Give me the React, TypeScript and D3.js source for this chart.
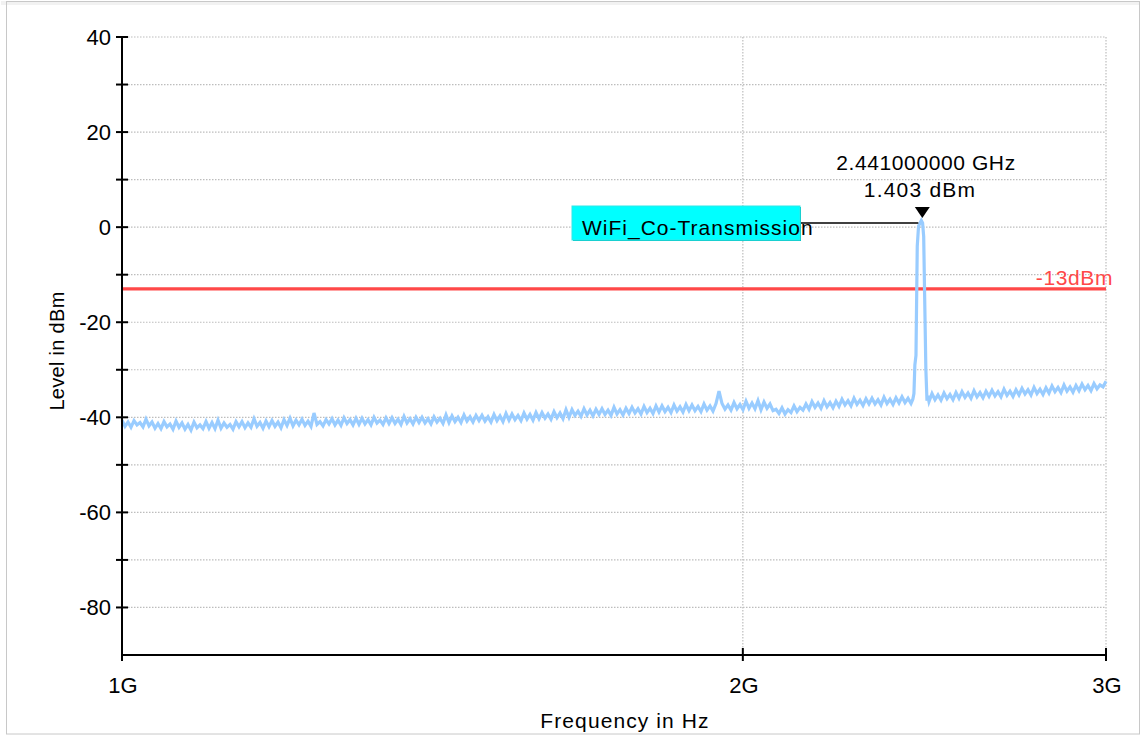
import React from "react";
import * as d3 from "d3";

// Sweep definition (log-spaced display points)
const sweepStartHz = 1e9;
const sweepStopHz = 3e9;

// Noise-floor level per sweep point, dBm
const noiseFloor: number[] = [
  -40.6, -41.9, -41.0, -42.1, -40.7, -41.6, -41.1, -42.0, -40.4, -41.8,
  -41.0, -42.3, -41.3, -42.4, -40.9, -42.0, -41.4, -42.5, -40.8, -42.1,
  -41.2, -42.5, -41.5, -42.7, -41.0, -42.2, -41.6, -42.4, -40.9, -42.3,
  -41.1, -42.4, -40.6, -42.3, -41.2, -42.1, -41.5, -42.5, -40.9, -42.0,
  -40.9, -42.2, -41.2, -42.1, -40.3, -41.9, -41.1, -42.3, -40.8, -42.0,
  -40.7, -41.9, -41.0, -42.2, -40.5, -41.7, -40.2, -41.8, -40.6, -41.6,
  -40.4, -41.7, -40.8, -41.9, -39.1, -41.5, -40.9, -41.8, -40.5, -41.4,
  -40.3, -41.6, -40.6, -41.7, -40.1, -41.3, -40.5, -41.6, -40.2, -41.5,
  -40.2, -41.4, -40.5, -41.6, -40.0, -41.2, -40.6, -41.5, -40.1, -41.3,
  -40.1, -41.3, -40.4, -41.5, -39.8, -41.2, -40.3, -41.4, -40.0, -41.1,
  -40.0, -41.2, -40.3, -41.4, -39.9, -41.0, -40.2, -41.3, -39.5, -41.1,
  -39.7, -40.9, -40.0, -41.1, -39.5, -40.8, -39.9, -41.0, -39.6, -40.7,
  -39.6, -40.8, -39.9, -41.0, -39.4, -40.7, -39.7, -40.9, -39.2, -40.6,
  -39.3, -40.5, -39.6, -40.7, -39.1, -40.4, -39.4, -40.6, -39.0, -40.3,
  -39.0, -40.2, -39.3, -40.4, -38.8, -40.1, -39.1, -40.3, -38.4, -40.0,
  -38.4, -39.6, -38.7, -39.8, -38.2, -39.5, -38.5, -39.7, -38.3, -39.4,
  -38.2, -39.4, -38.5, -39.6, -37.9, -39.3, -38.4, -39.5, -38.1, -39.2,
  -37.9, -39.1, -38.2, -39.3, -37.7, -39.0, -38.1, -39.2, -37.6, -38.9,
  -37.6, -38.8, -37.9, -39.0, -37.4, -38.7, -37.8, -38.9, -37.3, -38.6,
  -37.4, -38.6, -37.7, -38.8, -37.2, -38.5, -37.6, -38.7, -37.1, -34.5,
  -37.1, -38.3, -37.4, -38.5, -36.9, -38.2, -37.3, -38.4, -36.6, -38.1,
  -37.0, -38.2, -36.5, -38.4, -36.8, -38.1, -37.2, -38.6, -38.3, -39.2,
  -38.0, -39.3, -38.4, -39.0, -37.6, -38.8, -37.9, -38.5, -37.2, -38.3,
  -36.7, -37.9, -37.0, -38.1, -36.5, -37.8, -36.9, -38.0, -36.6, -37.7,
  -36.2, -37.4, -36.5, -37.6, -36.0, -37.3, -36.4, -37.5, -36.1, -37.2,
  -36.0, -37.2, -36.3, -37.4, -35.8, -37.1, -36.2, -37.3, -35.9, -37.0,
  -35.7, -36.9, -36.0, -37.1, -35.6, -36.8, -35.9, -37.0, -35.6, -36.7,
  -35.0, -36.3, -35.3, -36.4, -34.9, -36.1, -35.2, -36.3, -34.8, -36.0,
  -34.6, -35.8, -34.9, -36.0, -34.4, -35.7, -34.8, -35.9, -34.5, -35.6,
  -34.3, -35.5, -34.6, -35.7, -34.1, -35.4, -34.5, -35.6, -34.2, -35.3,
  -33.9, -35.1, -34.2, -35.3, -33.7, -35.0, -34.1, -35.2, -33.8, -34.9,
  -33.4, -34.6, -33.7, -34.8, -33.2, -34.5, -33.6, -34.7, -33.3, -34.4,
  -33.0, -34.2, -33.3, -34.4, -32.9, -34.0, -33.2, -33.6, -32.4,
];

// WiFi carrier, finely resolved: [frequency GHz, level dBm]
const carrierGHz: number[] = [2.418, 2.421, 2.4235, 2.4265, 2.43, 2.4335, 2.437, 2.441, 2.4445, 2.4475, 2.45, 2.4535, 2.4565, 2.459];
const carrierDbm: number[] = [-36.2, -35.0, -29.0, -27.0, -4.0, 0.2, 0.8, 1.403, 0.9, -2.0, -14.0, -30.0, -36.5, -35.5];

const xTickValues = [1e9, 2e9, 3e9];
const xTickLabels = ["1G", "2G", "3G"];
const yMajorTicks = [40, 20, 0, -20, -40, -60, -80];
const yMinorTicks = [30, 10, -10, -30, -50, -70];
const yGridTicks = [40, 30, 20, 10, 0, -10, -20, -30, -40, -50, -60, -70, -80];
const limitDbm = -13;
const limitLabel = "-13dBm";
const markerName = "WiFi_Co-Transmission";

const FONT = "'Liberation Sans', Arial, sans-serif";

export default function App() {
  const W = 1141;
  const H = 735;
  const left = 122;
  const right = 1106;
  const top = 37;
  const bottom = 655;

  const x = d3.scaleLog().domain([sweepStartHz, sweepStopHz]).range([left, right]);
  const y = d3.scaleLinear().domain([-90, 40]).range([bottom, top]);

  const n = noiseFloor.length;
  const cLo = carrierGHz[0] * 1e9 - 2e6;
  const cHi = carrierGHz[carrierGHz.length - 1] * 1e9 + 2e6;
  const pts: [number, number][] = [];
  noiseFloor.forEach((v, i) => {
    const f = sweepStartHz * Math.pow(sweepStopHz / sweepStartHz, i / (n - 1));
    if (f < cLo || f > cHi) pts.push([f, v]);
  });
  carrierGHz.forEach((g, i) => pts.push([g * 1e9, carrierDbm[i]]));
  pts.sort((a, b) => a[0] - b[0]);

  const line = d3
    .line<[number, number]>()
    .x((d) => x(d[0]))
    .y((d) => y(d[1]));

  // marker at trace maximum
  const peak = pts.reduce((a, b) => (b[1] > a[1] ? b : a));
  const mx = x(peak[0]);
  const my = y(peak[1]);
  const freqText = (peak[0] / 1e9).toFixed(9) + " GHz";
  const levelText = peak[1].toFixed(3) + " dBm";

  const boxX = 572;
  const boxY = 206;
  const boxW = 228;
  const boxH = 34;
  const leaderY = my + 2.5;
  const tipY = my - 2.5;

  return (
    <svg
      width={W}
      height={H}
      style={{ position: "absolute", left: 0, top: 0, background: "#fff" }}
      fontFamily={FONT}
    >
      <rect x={0} y={0} width={W} height={H} fill="#fff" />
      <rect x={1} y={1} width={W - 2} height={4} fill="#f2f2f2" />
      <rect x={6.5} y={1.5} width={W - 8} height={H - 2.5} fill="none" stroke="#c8c8c8" strokeWidth={1} />

      {/* grid */}
      {yGridTicks.map((t) => (
        <line
          key={"gy" + t}
          x1={left + 6}
          x2={right}
          y1={y(t)}
          y2={y(t)}
          stroke="#bdbdbd"
          strokeWidth={1.2}
          strokeDasharray="1.5,1.5"
        />
      ))}
      {xTickValues.slice(1).map((t) => (
        <line
          key={"gx" + t}
          x1={x(t)}
          x2={x(t)}
          y1={top}
          y2={bottom - 6}
          stroke="#bdbdbd"
          strokeWidth={1.2}
          strokeDasharray="1.5,1.5"
        />
      ))}

      {/* limit line */}
      <line x1={left} x2={right} y1={y(limitDbm)} y2={y(limitDbm)} stroke="#ff4848" strokeWidth={3.2} />
      <text x={1113} y={y(limitDbm) - 4} fill="#ff4848" fontSize={21} textAnchor="end" letterSpacing={0.6}>
        {limitLabel}
      </text>

      {/* trace */}
      <path d={line(pts) || ""} fill="none" stroke="#99ccff" strokeWidth={3.2} strokeLinejoin="miter" />

      {/* axes */}
      <line x1={left} x2={left} y1={top} y2={bottom + 6} stroke="#000" strokeWidth={2} />
      <line x1={left} x2={right} y1={bottom} y2={bottom} stroke="#000" strokeWidth={2} />
      {[...yMajorTicks, ...yMinorTicks].map((t) => (
        <line key={"ty" + t} x1={left - 6} x2={left + 6} y1={y(t)} y2={y(t)} stroke="#000" strokeWidth={2} />
      ))}
      {yMajorTicks.map((t) => (
        <text key={"ly" + t} x={111} y={y(t) + 8} fontSize={22} textAnchor="end" fill="#000">
          {t}
        </text>
      ))}
      {xTickValues.map((t, i) => (
        <g key={"tx" + t}>
          <line x1={x(t)} x2={x(t)} y1={bottom - 7} y2={bottom + 6} stroke="#000" strokeWidth={2} />
          <text x={x(t) + 1} y={693} fontSize={22} textAnchor="middle" fill="#000">
            {xTickLabels[i]}
          </text>
        </g>
      ))}
      <text x={625} y={728} fontSize={21} textAnchor="middle" fill="#000" letterSpacing={1.1}>
        Frequency in Hz
      </text>
      <text
        transform={`translate(64, 351) rotate(-90)`}
        fontSize={20}
        textAnchor="middle"
        fill="#000"
        letterSpacing={0.3}
      >
        Level in dBm
      </text>

      {/* marker annotation */}
      <line x1={boxX + boxW} x2={mx - 3} y1={leaderY} y2={leaderY} stroke="#000" strokeWidth={1.5} />
      <rect x={boxX + 1} y={boxY + 1} width={boxW} height={boxH} fill="#00b8b8" />
      <rect x={boxX} y={boxY} width={boxW} height={boxH} fill="#00ffff" stroke="#30e8e8" strokeWidth={1} />
      <text x={582} y={235} fontSize={21} fill="#000" letterSpacing={1.0}>
        {markerName}
      </text>
      <path d={`M${mx + 1},${tipY} l-7.5,-11 h15 z`} fill="#000" />
      <text x={926} y={170} fontSize={21} textAnchor="middle" fill="#000" letterSpacing={0.6}>
        {freqText}
      </text>
      <text x={920} y={197} fontSize={21} textAnchor="middle" fill="#000" letterSpacing={1.2}>
        {levelText}
      </text>
    </svg>
  );
}
